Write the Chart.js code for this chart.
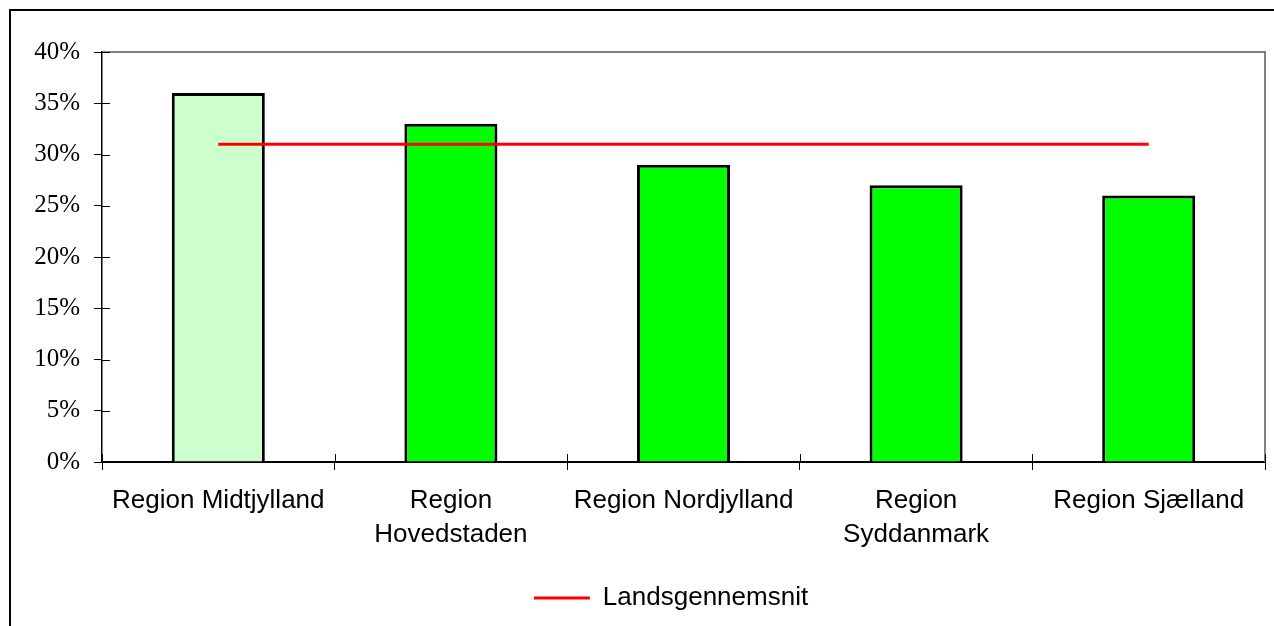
<!DOCTYPE html>
<html>
<head>
<meta charset="utf-8">
<script src="https://cdn.jsdelivr.net/npm/chart.js@4"></script>
<style>
  html, body { margin: 0; padding: 0; background: #fff; }
  canvas { display: block; }
</style>
</head>
<body>
<canvas id="chart" width="1274" height="626"></canvas>
<script>
// Andel pr. region
const regions = [
  'Region Midtjylland',
  ['Region', 'Hovedstaden'],
  'Region Nordjylland',
  ['Region', 'Syddanmark'],
  'Region Sjælland'
];
const regionValues = [0.36, 0.33, 0.29, 0.27, 0.26];
const nationalAverage = [0.31, 0.31, 0.31, 0.31, 0.31];
const barColors = ['#CCFFCC', '#00FF00', '#00FF00', '#00FF00', '#00FF00'];
const averageLabel = 'Landsgennemsnit';

// ramme om diagrammet + plotområdet + indvendige tick-streger
const framePlugin = {
  id: 'frame',
  afterLayout(chart) {
    // y-aksens etiketter må gå ud over aksens smalle boks (ellers klippes de)
    chart.scales.y.left = 0;
  },
  beforeDraw(chart) {
    const ctx = chart.ctx;
    ctx.save();
    ctx.strokeStyle = '#000';
    ctx.lineWidth = 2;
    ctx.beginPath();
    ctx.moveTo(10, chart.height + 5);
    ctx.lineTo(10, 10);
    ctx.lineTo(chart.width + 5, 10);
    ctx.stroke();
    ctx.restore();
  },
  afterDraw(chart) {
    const ctx = chart.ctx;
    const area = chart.chartArea;
    const x = chart.scales.x;
    const y = chart.scales.y;
    ctx.save();
    ctx.strokeStyle = '#808080';
    ctx.lineWidth = 2;
    ctx.beginPath();
    ctx.moveTo(area.left, area.top);
    ctx.lineTo(area.right, area.top);
    ctx.lineTo(area.right, area.bottom);
    ctx.stroke();

    ctx.strokeStyle = '#000';
    ctx.lineWidth = 1;
    ctx.beginPath();
    y.ticks.forEach((t, i) => {
      const py = Math.round(y.getPixelForTick(i)) + 0.5;
      ctx.moveTo(area.left, py);
      ctx.lineTo(area.left + 8, py);
    });
    for (let i = 0; i <= regions.length; i++) {
      const px = Math.round(x.getPixelForValue(i - 0.5)) + 0.5;
      ctx.moveTo(px, area.bottom);
      ctx.lineTo(px, area.bottom - 8);
    }
    ctx.stroke();
    ctx.restore();
  }
};

new Chart(document.getElementById('chart'), {
  data: {
    labels: regions,
    datasets: [
      {
        type: 'bar',
        label: 'Andel',
        data: regionValues,
        backgroundColor: barColors,
        borderColor: '#000',
        borderWidth: 3,
        barPercentage: 0.4,
        categoryPercentage: 1,
        order: 2
      },
      {
        type: 'line',
        label: averageLabel,
        data: nationalAverage,
        borderColor: '#FF0000',
        backgroundColor: '#FF0000',
        borderWidth: 3,
        pointRadius: 0,
        fill: false,
        order: 1
      }
    ]
  },
  options: {
    responsive: false,
    animation: false,
    layout: { padding: { top: 52, right: 9, left: 77, bottom: 5 } },
    scales: {
      x: {
        offset: true,
        z: 1,
        afterFit: scale => { scale.height = 113; },
        grid: { drawOnChartArea: false, drawTicks: true, tickLength: 8, color: '#000', offset: true },
        border: { display: true, color: '#000', width: 2 },
        ticks: {
          color: '#000',
          padding: 14,
          maxRotation: 0,
          autoSkip: false,
          font: { family: 'Liberation Sans, Arial, sans-serif', size: 26, lineHeight: 1.3 }
        }
      },
      y: {
        min: 0,
        max: 0.4,
        afterFit: scale => { scale.width = 25; },
        grid: { drawOnChartArea: false, drawTicks: true, tickLength: 8, color: '#000' },
        border: { display: true, color: '#000', width: 1.5 },
        ticks: {
          stepSize: 0.05,
          color: '#000',
          padding: 14,
          font: { family: 'Liberation Serif, Times New Roman, serif', size: 25 },
          callback: v => Math.round(v * 100) + '%'
        }
      }
    },
    plugins: {
      tooltip: { enabled: false },
      legend: {
        position: 'bottom',
        labels: {
          color: '#000',
          boxWidth: 56,
          boxHeight: 3,
          padding: 10,
          font: { family: 'Liberation Sans, Arial, sans-serif', size: 26 },
          generateLabels: () => [{
            text: averageLabel,
            fillStyle: '#FF0000',
            strokeStyle: '#FF0000',
            lineWidth: 0,
            hidden: false,
            datasetIndex: 1,
            fontColor: '#000'
          }]
        }
      }
    }
  },
  plugins: [framePlugin]
});
</script>
</body>
</html>
